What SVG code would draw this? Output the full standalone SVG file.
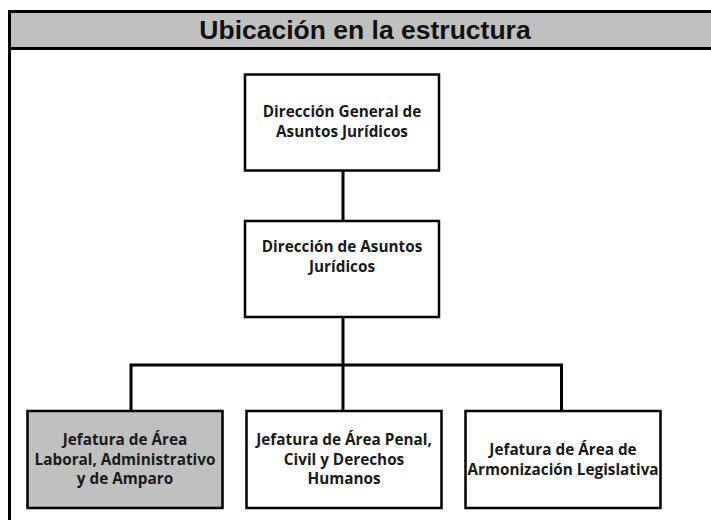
<svg xmlns="http://www.w3.org/2000/svg" width="711" height="520" viewBox="0 0 711 520">
<style>
.box{fill:#ffffff;stroke:#000000;stroke-width:2.5}
.gray{fill:#c0c0c0}
.lbl{font-family:"Open Sans","Noto Sans","Liberation Sans",sans-serif;font-weight:bold;font-size:15.3px;fill:#1a1a1a;text-anchor:middle}
.title{font-family:"Liberation Sans",Arial,sans-serif;font-weight:bold;font-size:26.5px;fill:#111111;text-anchor:middle}
.conn{stroke:#000000;stroke-width:3;fill:none}
</style>
<rect x="0" y="0" width="711" height="520" fill="#ffffff"/>
<g id="frame">
<rect x="9.5" y="11.5" width="720" height="37" fill="#c0c0c0" stroke="#000000" stroke-width="3"/>
<line x1="9.5" y1="10" x2="9.5" y2="520" stroke="#000000" stroke-width="3"/>
<text class="title" x="365" y="38.5">Ubicación en la estructura</text>
</g>
<g id="connectors">
<line class="conn" x1="343" y1="170" x2="343" y2="220"/>
<line class="conn" x1="343" y1="317" x2="343" y2="410"/>
<polyline class="conn" points="131,410 131,365 561.5,365 561.5,410"/>
</g>
<g id="n1">
<rect class="box" x="245" y="74.5" width="194" height="96"/>
<text class="lbl" x="342" y="117">Dirección General de</text>
<text class="lbl" x="342" y="137">Asuntos Jurídicos</text>
</g>
<g id="n2">
<rect class="box" x="245" y="221" width="194" height="96" stroke-width="3"/>
<text class="lbl" x="342" y="252">Dirección de Asuntos</text>
<text class="lbl" x="342" y="271.5">Jurídicos</text>
</g>
<g id="n3">
<rect class="box gray" x="27.5" y="411" width="195" height="97"/>
<text class="lbl" x="125" y="445">Jefatura de Área</text>
<text class="lbl" x="125" y="464.5">Laboral, Administrativo</text>
<text class="lbl" x="125" y="484">y de Amparo</text>
</g>
<g id="n4">
<rect class="box" x="246.5" y="411" width="195" height="97"/>
<text class="lbl" x="344" y="445">Jefatura de Área Penal,</text>
<text class="lbl" x="344" y="464.5">Civil y Derechos</text>
<text class="lbl" x="344" y="484">Humanos</text>
</g>
<g id="n5">
<rect class="box" x="465.5" y="411" width="195" height="97"/>
<text class="lbl" x="563" y="455">Jefatura de Área de</text>
<text class="lbl" x="563" y="474.5">Armonización Legislativa</text>
</g>
</svg>
